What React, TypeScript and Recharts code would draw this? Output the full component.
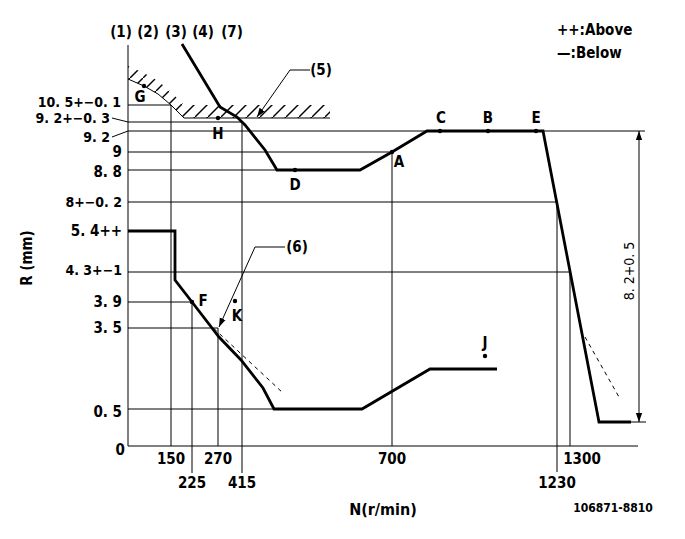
import React from 'react';
import { ComposedChart, Line, Area, XAxis, YAxis, ReferenceLine, ReferenceDot } from 'recharts';

// The original governor diagram is schematic (its axes are not to scale),
// so every value is expressed as a position on the schematic N (x) and R (y) axes.

// ---- axis ticks ----
const xTickPos = [43, 64, 90, 114, 264, 429, 442];
const xTickLabels = ['150', '225', '270', '415', '700', '1230', '1300'];
const yTickPos = [0, 37, 118, 144, 174, 215, 244, 276, 294, 315, 324, 341];
const yTickLabels = ['0', '0. 5', '3. 5', '3. 9', '4. 3+−1', '5. 4++', '8+−0. 2', '8. 8', '9', '9. 2', '9. 2+−0. 3', '10. 5+−0. 1'];

// ---- series ----
const upperN = [54, 92, 109, 117, 137, 149, 232, 264, 299, 415, 471, 503];
const upperR = [402, 339, 329, 321, 296, 276, 276, 294, 315, 315, 24, 24];
const lowerN = [0, 47, 47, 64, 91, 113, 135, 146, 234, 302, 369];
const lowerR = [215, 215, 166, 144, 109, 86, 58, 37, 37, 77, 77];
const limitN = [0, 16, 30, 43, 56, 202];
const limitR = [367, 360, 352, 341, 328, 328];
const dashLeftN = [80, 155];
const dashLeftR = [123, 53];
const dashRightN = [457, 491];
const dashRightR = [109, 49];

// ---- marked points ----
const pointNames = ['G', 'H', 'D', 'A', 'C', 'B', 'E', 'F', 'K', 'J'];
const pointN = [16, 90, 167, 264, 312, 360, 408, 64, 107, 357];
const pointR = [360, 328, 276, 294, 315, 315, 315, 144, 145, 90];

// ---- thin reference lines ----
const hLineR = [341, 324, 315, 294, 276, 244, 174, 144, 118, 37, 24, 0];
const hLineFrom = [0, 0, 0, 0, 0, 0, 0, 0, 0, 0, 503, 0];
const hLineTo = [43, 114, 517, 264, 149, 429, 442, 64, 90, 146, 518, 510];
const vLineN = [0, 43, 64, 90, 114, 264, 429, 442];
const vLineFrom = [0, 0, -27, 0, -27, 0, -26, 0];
const vLineTo = [401, 341, 144, 118, 324, 294, 244, 174];

// ---- leaders / dimension ----
const leader5N = [182, 162, 129];
const leader5R = [376, 376, 329];
const leader6N = [157, 127, 91];
const leader6R = [199, 199, 119];
const dimN = [511, 511];
const dimR = [24, 315];

// ---- notes ----
const noteTexts = ['(1)', '(2)', '(3)', '(4)', '(7)', '(5)', '(6)', '++:Above', '—:Below', '8. 2+0. 5', '106871-8810'];
const noteN = [-7, 20, 48, 75, 104, 193, 169, 429, 429, 501, 485];
const noteR = [414, 414, 414, 414, 414, 376, 199, 416, 393, 175, -62];

// ---- styles ----
const FONT = "'DejaVu Sans Condensed', 'DejaVu Sans', sans-serif";
const MARGIN_TOP = 30;
const PLOT_H = 416;
const PLOT_BOTTOM = MARGIN_TOP + PLOT_H;
const xTickStyle: Record<string, { row?: number; dx?: number }> = {
  '225': { row: 1 }, '415': { row: 1 }, '1230': { row: 1 }, '1300': { dx: 12 },
};
const yTickStyle: Record<string, { right?: number; dy?: number; leader?: boolean; size?: number }> = {
  '0': { right: 125, dy: 4 },
  '0. 5': { dy: 3 },
  '4. 3+−1': { dy: -2, size: 14 },
  '8+−0. 2': { size: 14 },
  '8. 8': { dy: 2 },
  '9. 2': { right: 110, dy: 6, leader: true, size: 14 },
  '9. 2+−0. 3': { right: 110, dy: -4, leader: true, size: 14 },
  '10. 5+−0. 1': { right: 121, dy: -3, size: 14 },
};
const pointLabelOffset: Record<string, [number, number]> = {
  G: [-4, 11], H: [0, 16], D: [0, 15], A: [7, 10], C: [1, -13], B: [0, -13],
  E: [0, -13], F: [11, -1], K: [2, 15], J: [0, -13],
};
const noteStyle: Record<string, { anchor?: string; size?: number; weight?: string; rotate?: boolean }> = {
  '++:Above': { anchor: 'start', size: 15 },
  '—:Below': { anchor: 'start', size: 15 },
  '8. 2+0. 5': { rotate: true, size: 14, weight: 'normal' },
  '106871-8810': { size: 12 },
};

const zip = (xs: number[], ys: number[]) => xs.map((x, i) => ({ x, y: ys[i] }));

const upper = zip(upperN, upperR);
const lower = zip(lowerN, lowerR);
const limitLine = zip(limitN, limitR);
const limitBand = limitN.map((x, i) => ({ x, band: [limitR[i], limitR[i] + 13] }));
const dashLeft = zip(dashLeftN, dashLeftR);
const dashRight = zip(dashRightN, dashRightR);
const leader5 = zip(leader5N, leader5R);
const leader6 = zip(leader6N, leader6R);
const dim = zip(dimN, dimR);

const XTick = (props: any) => {
  const { x, payload } = props;
  const label = xTickLabels[xTickPos.indexOf(payload.value)];
  const st = xTickStyle[label] || {};
  return (
    <text x={x + (st.dx || 0)} y={PLOT_BOTTOM + (st.row ? 37 : 13)} textAnchor="middle" dominantBaseline="central"
      fontFamily={FONT} fontWeight="bold" fontSize={15} fill="#000" style={{ fontStretch: 'condensed' }}>
      {label}
    </text>
  );
};

const YTick = (props: any) => {
  const { y, payload } = props;
  const label = yTickLabels[yTickPos.indexOf(payload.value)];
  const st = yTickStyle[label] || {};
  const right = st.right ?? 122;
  const dy = st.dy ?? 0;
  return (
    <g>
      <text x={right} y={y + dy} textAnchor="end" dominantBaseline="central" fontFamily={FONT}
        fontWeight="bold" fontSize={st.size ?? 15} fill="#000" style={{ fontStretch: 'condensed' }}>
        {label}
      </text>
      {st.leader && <line x1={right + 2} y1={y + dy} x2={128} y2={y} stroke="#000" strokeWidth={1} />}
    </g>
  );
};

const textProps = (size = 15, weight = 'bold') => ({
  fontFamily: FONT, fontWeight: weight, fontSize: size, fill: '#000', style: { fontStretch: 'condensed' as const },
});

export default function App() {
  return (
    <div style={{ position: 'absolute', left: 0, top: 0, width: 685, height: 539, background: '#fff' }}>
      <svg width={0} height={0} style={{ position: 'absolute' }}>
        <defs>
          <pattern id="hatch" width="13" height="13" patternUnits="userSpaceOnUse">
            <path d="M-1,14 L14,-1" stroke="#000" strokeWidth="1.4" />
          </pattern>
          <marker id="arrow" viewBox="0 0 10 10" refX="10" refY="5" markerWidth="9" markerHeight="9"
            markerUnits="userSpaceOnUse" orient="auto-start-reverse">
            <path d="M0,1.5 L10,5 L0,8.5 z" fill="#000" />
          </marker>
        </defs>
      </svg>
      <ComposedChart width={685} height={539} margin={{ top: MARGIN_TOP, right: 37, bottom: 0, left: 0 }}>
        <XAxis type="number" dataKey="x" domain={[0, 520]} allowDataOverflow ticks={xTickPos} interval={0}
          tick={<XTick />} axisLine={false} tickLine={false} height={93}
          label={{
            content: (p: any) => (
              <text x={p.viewBox.x + 255} y={p.viewBox.y + 63} textAnchor="middle" dominantBaseline="central" {...textProps(16)}>
                N(r/min)
              </text>
            ),
          }} />
        <YAxis type="number" domain={[0, PLOT_H]} allowDataOverflow ticks={yTickPos} interval={0}
          tick={<YTick />} axisLine={false} tickLine={false} width={128}
          label={{
            content: (p: any) => {
              const cx = p.viewBox.x + 27;
              const cy = p.viewBox.y + 228;
              return (
                <text x={cx} y={cy} textAnchor="middle" dominantBaseline="central" transform={`rotate(-90 ${cx} ${cy})`} {...textProps(15)}>
                  R (mm)
                </text>
              );
            },
          }} />

        {hLineR.map((r, i) => (
          <ReferenceLine key={`h${i}`} segment={[{ x: hLineFrom[i], y: r }, { x: hLineTo[i], y: r }]}
            stroke="#000" strokeWidth={1} ifOverflow="visible" />
        ))}
        {vLineN.map((n, i) => (
          <ReferenceLine key={`v${i}`} segment={[{ x: n, y: vLineFrom[i] }, { x: n, y: vLineTo[i] }]}
            stroke="#000" strokeWidth={1} ifOverflow="visible" />
        ))}

        <Area data={limitBand} dataKey="band" type="linear" stroke="none" fill="url(#hatch)" fillOpacity={1}
          isAnimationActive={false} activeDot={false} />
        <Line data={limitLine} dataKey="y" type="linear" stroke="#000" strokeWidth={1} dot={false} activeDot={false} isAnimationActive={false} />
        <Line data={upper} dataKey="y" type="linear" stroke="#000" strokeWidth={2.8} dot={false} activeDot={false} isAnimationActive={false} />
        <Line data={lower} dataKey="y" type="linear" stroke="#000" strokeWidth={2.8} dot={false} activeDot={false} isAnimationActive={false} />
        <Line data={dashLeft} dataKey="y" type="linear" stroke="#000" strokeWidth={1} strokeDasharray="4 4" dot={false} activeDot={false} isAnimationActive={false} />
        <Line data={dashRight} dataKey="y" type="linear" stroke="#000" strokeWidth={1} strokeDasharray="4 4" dot={false} activeDot={false} isAnimationActive={false} />
        <Line data={leader5} dataKey="y" type="linear" stroke="#000" strokeWidth={1} markerEnd="url(#arrow)" dot={false} activeDot={false} isAnimationActive={false} />
        <Line data={leader6} dataKey="y" type="linear" stroke="#000" strokeWidth={1} markerEnd="url(#arrow)" dot={false} activeDot={false} isAnimationActive={false} />
        <Line data={dim} dataKey="y" type="linear" stroke="#000" strokeWidth={1} markerStart="url(#arrow)" markerEnd="url(#arrow)" dot={false} activeDot={false} isAnimationActive={false} />

        {pointNames.map((name, i) => (
          <ReferenceDot key={name} x={pointN[i]} y={pointR[i]} r={2.2} fill="#000" stroke="none" ifOverflow="visible"
            label={(p: any) => {
              const cx = p.viewBox.x + p.viewBox.width / 2 + pointLabelOffset[name][0];
              const cy = p.viewBox.y + p.viewBox.height / 2 + pointLabelOffset[name][1];
              return (
                <text x={cx} y={cy} textAnchor="middle" dominantBaseline="central" {...textProps(15)}>{name}</text>
              );
            }} />
        ))}

        {noteTexts.map((t, i) => {
          const st = noteStyle[t] || {};
          return (
            <ReferenceDot key={t} x={noteN[i]} y={noteR[i]} r={0} fill="none" stroke="none" ifOverflow="visible"
              label={(p: any) => {
                const cx = p.viewBox.x + p.viewBox.width / 2;
                const cy = p.viewBox.y + p.viewBox.height / 2;
                return (
                  <text x={cx} y={cy} textAnchor={st.anchor || 'middle'} dominantBaseline="central"
                    transform={st.rotate ? `rotate(-90 ${cx} ${cy})` : undefined}
                    {...textProps(st.size || 15, st.weight || 'bold')}>
                    {t}
                  </text>
                );
              }} />
          );
        })}
      </ComposedChart>
    </div>
  );
}
